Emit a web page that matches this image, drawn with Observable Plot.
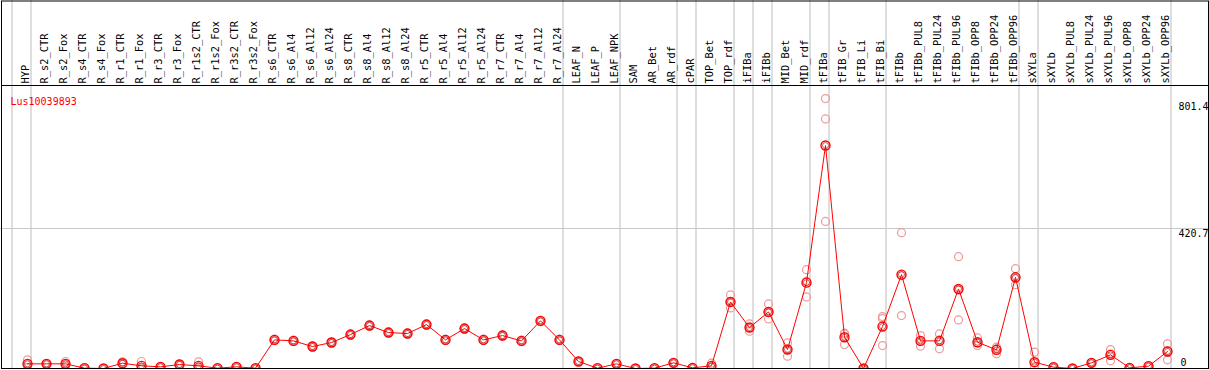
<!DOCTYPE html>
<html>
<head>
<meta charset="utf-8">
<script src="https://cdn.jsdelivr.net/npm/d3@7"></script>
<script src="https://cdn.jsdelivr.net/npm/@observablehq/plot@0.6"></script>
<style>
  html, body { margin: 0; padding: 0; background: #fff; }
  svg { display: block; }
</style>
</head>
<body>
<div id="chart"></div>
<script>
const title = "Lus10039893";
const categories = ["HYP","R_s2_CTR","R_s2_Fox","R_s4_CTR","R_s4_Fox","R_r1_CTR","R_r1_Fox","R_r3_CTR","R_r3_Fox","R_r1s2_CTR","R_r1s2_Fox","R_r3s2_CTR","R_r3s2_Fox","R_s6_CTR","R_s6_Al4","R_s6_Al12","R_s6_Al24","R_s8_CTR","R_s8_Al4","R_s8_Al12","R_s8_Al24","R_r5_CTR","R_r5_Al4","R_r5_Al12","R_r5_Al24","R_r7_CTR","R_r7_Al4","R_r7_Al12","R_r7_Al24","LEAF_N","LEAF_P","LEAF_NPK","SAM","AR_Bet","AR_rdf","cPAR","TOP_Bet","TOP_rdf","iFIBa","iFIBb","MID_Bet","MID_rdf","tFIBa","tFIB_Gr","tFIB_Li","tFIB_Bi","tFIBb","tFIBb_PUL8","tFIBb_PUL24","tFIBb_PUL96","tFIBb_OPP8","tFIBb_OPP24","tFIBb_OPP96","sXYLa","sXYLb","sXYLb_PUL8","sXYLb_PUL24","sXYLb_PUL96","sXYLb_OPP8","sXYLb_OPP24","sXYLb_OPP96"];
const means = [14,14,14,1,0,16,8,5,12,8,1,5,1,86,83,66,78,102,129,108,105,132,86,120,86,99,83,143,86,21,1,14,0,1,17,2,8,200,123,170,57,258,670,94,0,126,282,83,83,239,79,56,274,19,4,0,17,41,2,7,51];
const replicates = [
  [26,14,3],[15,13,14],[21,14,7],[2,1,0],[0,0,0],[20,16,12],[21,3,0],[6,5,4],[14,12,10],[20,4,0],
  [1,1,0],[6,5,4],[1,1,0],[88,86,84],[85,83,81],[68,66,64],[80,78,76],[104,102,100],[131,129,127],[110,108,106],
  [107,105,103],[134,132,130],[88,86,84],[122,120,118],[88,86,84],[101,99,97],[85,83,81],[145,143,141],[88,86,84],[22,21,20],
  [1,1,0],[15,14,13],[0,0,0],[1,1,0],[18,17,16],[2,2,2],[16,5,3],[221,200,182],[134,123,112],[194,168,149],
  [77,57,37],[297,262,215],[811,750,442],[106,104,72],[0,0,0],[156,150,69],[408,279,159],[99,83,67],[104,86,59],[336,236,146],
  [92,77,69],[64,60,44],[300,270,252],[49,4,4],[5,4,3],[0,0,0],[18,17,16],[57,43,23],[2,2,2],[8,7,6],
  [74,53,26]
];
const groupEnds = [-1,0,28,31,34,35,37,38,39,41,42,45,52,53,60];
const yTickValues = [801.4, 420.7];
const yZeroTick = [0];
const yTop = 850.4;

const meanData = means.map((v, i) => ({i, v}));
const repData = replicates.flatMap((arr, i) => arr.map(v => ({i, v})));
const catData = categories.map((c, i) => ({i, c}));

const font = "DejaVu Sans Mono";
const chart = Plot.plot({
  width: 1209,
  height: 370,
  marginTop: 85,
  marginBottom: 2,
  marginLeft: 0,
  marginRight: 0,
  style: {fontFamily: font, fontSize: "10px", background: "#fff", overflow: "hidden"},
  x: {type: "linear", domain: [-27/19, 1182/19], axis: null},
  y: {domain: [0, yTop], axis: null},
  marks: [
    Plot.ruleY(yTickValues.slice(1), {stroke: "#c8c8c8", strokeWidth: 1.2}),
    Plot.ruleX(groupEnds, {x: d => d, dx: 3.5, stroke: "#c8c8c8", strokeWidth: 1.2, insetTop: -85}),
    Plot.frame({stroke: "black", insetLeft: 1, insetRight: 1}),
    Plot.frame({stroke: "black", insetLeft: 1, insetRight: 1, insetTop: -84.5}),
    Plot.text(catData, {x: "i", text: "c", frameAnchor: "top", dy: -2, dx: -2, rotate: -90, textAnchor: "start", lineAnchor: "middle", fill: "black", fontSize: 10.4}),
    Plot.text([title], {text: d => d, frameAnchor: "top-left", dx: 10, dy: 12, textAnchor: "start", fill: "red", fontSize: 10}),
    Plot.text(yTickValues, {y: d => d, text: d => String(d), frameAnchor: "right", dx: -31, dy: 5, textAnchor: "start", fill: "black", fontSize: 10}),
    Plot.text(yZeroTick, {y: d => d, text: d => String(d), frameAnchor: "right", dx: -29, dy: -6, textAnchor: "start", fill: "black", fontSize: 10}),
    Plot.dot(repData, {x: "i", y: "v", r: 4, stroke: "#ee9a9a", strokeWidth: 1.2, fill: "none", clip: true}),
    Plot.line(meanData, {x: "i", y: "v", stroke: "red", strokeWidth: 1, clip: true}),
    Plot.dot(meanData, {x: "i", y: "v", r: 4.5, stroke: "red", strokeWidth: 1.4, fill: "none", clip: true}),
    Plot.dot(meanData, {x: "i", y: "v", r: 3, stroke: "#900", strokeWidth: 0.6, fill: "none", clip: true})
  ]
});
document.getElementById("chart").appendChild(chart);
</script>
</body>
</html>
